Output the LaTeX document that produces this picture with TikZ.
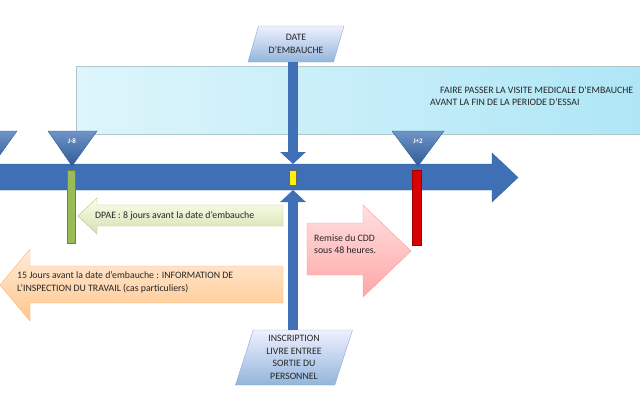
\documentclass[tikz,border=0pt]{standalone}
\usepackage{fontspec}
\setmainfont{Carlito}
\usetikzlibrary{shapes.geometric,arrows.meta}
\definecolor{barblue}{HTML}{3F70B5}
\definecolor{barline}{HTML}{2F5B95}
\definecolor{boxcyan}{HTML}{DDF5FB}
\definecolor{boxcyanb}{HTML}{AEE6F6}
\definecolor{greenbar}{HTML}{9BBB59}
\begin{document}
\begin{tikzpicture}[x=1pt, y=-1pt,
	txt/.style={font=\fontsize{9.8}{12.5}\selectfont, text=black!85, inner sep=0pt},
	jtag/.style={font=\fontsize{7}{8}\selectfont\bfseries, text=white, inner sep=0pt},
	datebox/.style={trapezium, trapezium stretches body, draw=barblue!60, top color=blue!6, bottom color=blue!20!cyan!10!barblue!55, align=center, txt},
	jtri/.style={draw=barline, top color=barblue!75, bottom color=barline},
	bigup/.style={line width=10pt, color=barblue, -{Triangle[width=25pt, length=12pt]}}
	]
	%%%%% START %%%%%
	\useasboundingbox (0, 0) rectangle (640, 400);
	
	\draw[draw=boxcyanb!70!black!60, left color=boxcyan, right color=boxcyanb] (76, 66) rectangle (650, 134);
	\node[txt, anchor=west] (visite1) at (440, 90) {FAIRE PASSER LA VISITE MEDICALE D'EMBAUCHE};
	\node[txt, anchor=west] (visite2) at (430, 102) {AVANT LA FIN DE LA PERIODE D'ESSAI};
	
	\draw[draw=barline, fill=barblue] (-2, 164) -- (492, 164) -- (492, 153) -- (518, 177.5) -- (492, 202) -- (492, 190) -- (-2, 190) -- cycle;
	\coordinate (topdate) at (293, 164);
	\coordinate (botdate) at (293, 190);
	
	\draw[jtri] (-32, 131) -- (17, 131) -- (-8, 166) -- cycle;
	\draw[jtri] (48, 131) -- (97, 131) -- (72, 166) -- cycle;
	\node[jtag] (jmoins) at (72, 141) {J-8};
	\draw[jtri] (392, 131) -- (444, 131) -- (418, 166) -- cycle;
	\node[jtag] (jplus) at (418, 141) {J+2};
	
	\draw[draw=greenbar!70!black, fill=greenbar] (67, 170) rectangle (75, 243);
	\draw[draw=black!60, fill=yellow] (289, 170) rectangle (296, 185);
	\draw[draw=red!60!black, fill=red!85!black] (412, 170) rectangle (421, 245);
	
	\node[datebox, trapezium left angle=61, trapezium right angle=119, minimum width=96, minimum height=36] (date) at (296, 44) {DATE\\D'EMBAUCHE};
	\draw[bigup] (date.south -| topdate) -- (topdate);
	
	\node[datebox, trapezium left angle=68, trapezium right angle=112, minimum width=117, minimum height=55] (registre) at (294, 357.5) {INSCRIPTION\\LIVRE ENTREE\\SORTIE DU\\PERSONNEL};
	\draw[bigup] (registre.north -| botdate) -- (botdate);
	
	\draw[draw=greenbar!80, top color=green!5!yellow!8, bottom color=greenbar!45] (78, 216) -- (97, 198) -- (97, 205) -- (283, 205) -- (283, 226) -- (97, 226) -- (97, 234) -- cycle;
	\node[txt, anchor=west] (dpae) at (95, 216) {DPAE : 8 jours avant la date d'embauche};
	
	\draw[draw=orange!60, top color=orange!15, bottom color=orange!45] (0, 285) -- (30, 249) -- (30, 266) -- (283, 266) -- (283, 303) -- (30, 303) -- (30, 321) -- cycle;
	\node[txt, anchor=west, align=left] (inspection) at (17, 282.5) {15 Jours avant la date d'embauche : INFORMATION DE\\L'INSPECTION DU TRAVAIL (cas particuliers)};
	
	\draw[draw=red!40, top color=red!12, bottom color=red!35] (307, 223) -- (363, 223) -- (363, 205) -- (411, 251) -- (363, 297) -- (363, 275) -- (307, 275) -- cycle;
	\node[txt, anchor=west, align=left] (cdd) at (314, 244) {Remise du CDD\\sous 48 heures.};
	
	%%%%% END %%%%%
\end{tikzpicture}
\end{document}
